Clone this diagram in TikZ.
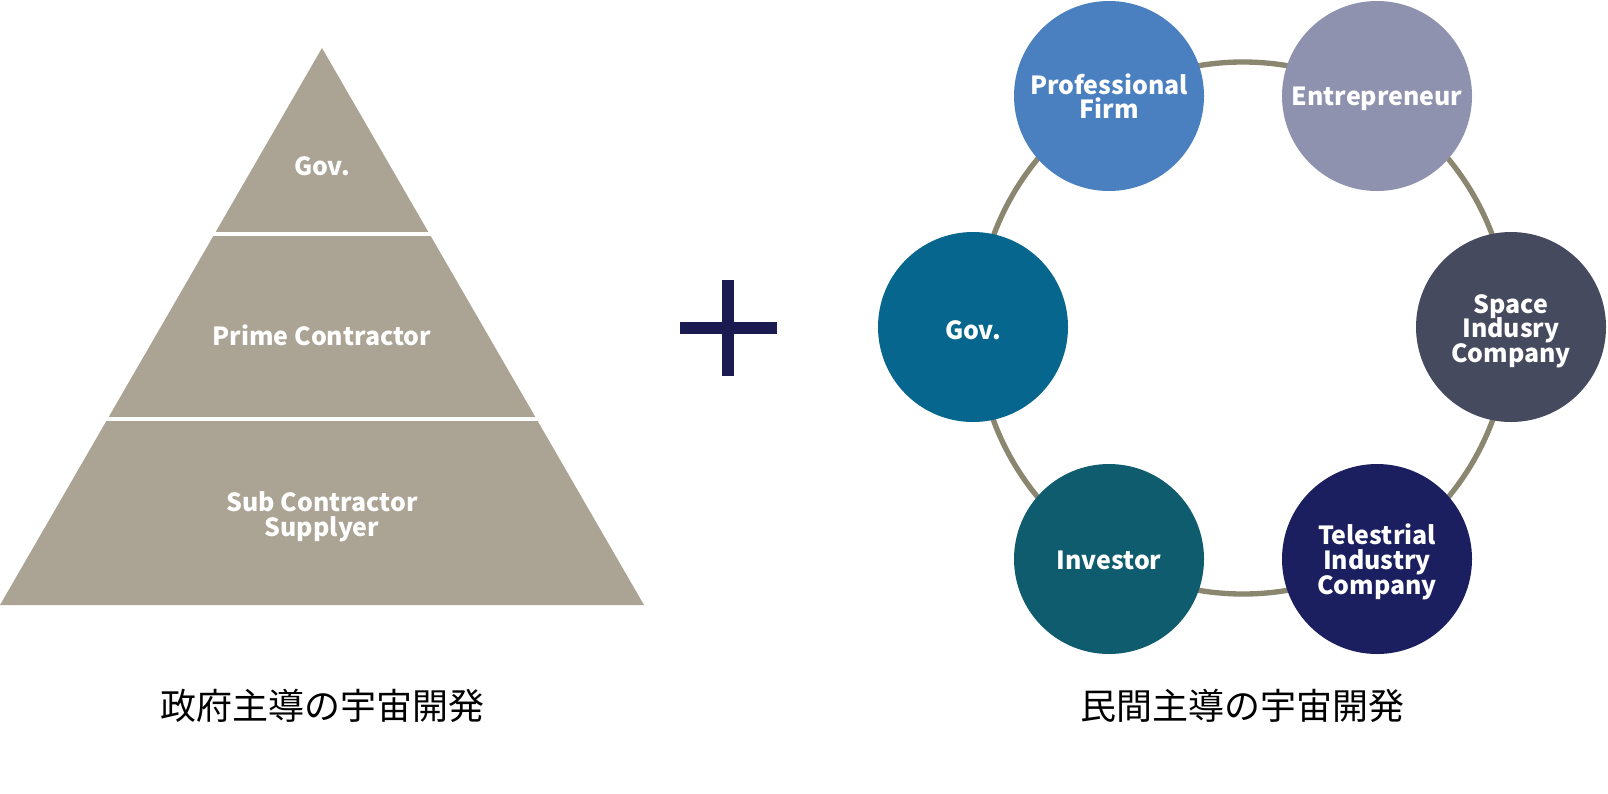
\documentclass[tikz,border=0pt]{standalone}
\usepackage{fontspec}
\newfontfamily\jpfont{Noto Sans CJK JP}[BoldFont={Noto Sans CJK JP Black}]
\usetikzlibrary{positioning}

\definecolor{pyramidgray}{RGB}{171,164,148}
\definecolor{ringgray}{RGB}{139,134,112}
\definecolor{plusnavy}{RGB}{27,27,82}
\definecolor{profblue}{RGB}{74,128,192}
\definecolor{entrelilac}{RGB}{142,146,174}
\definecolor{govteal}{RGB}{6,102,142}
\definecolor{spaceslate}{RGB}{70,74,94}
\definecolor{investgreen}{RGB}{15,92,110}
\definecolor{telenavy}{RGB}{27,31,96}

\newcommand\tightlines{\lineskiplimit=-20pt\relax}

\begin{document}
\begin{tikzpicture}[x=0.75pt,y=-0.75pt,
                    label text/.style={text=white,align=center,
                      font={\jpfont\bfseries\fontsize{18.7}{18.5}\selectfont\tightlines}},
                    actor/.style={circle,minimum size=142.5pt,inner sep=0pt},
                    caption/.style={text=black,font=\jpfont\fontsize{27}{30}\selectfont}]
  \useasboundingbox (0,0) rectangle (1608,793);

  % pyramid: government-led
  \coordinate (apex)  at (322,48);
  \coordinate (baseL) at (0,605);
  \coordinate (baseR) at (644,605);
  \fill[pyramidgray] (apex) -- (baseR) -- (baseL) -- cycle;
  \draw[white,line width=3pt] (0,234) -- (644,234)
                              (0,419) -- (644,419);

  \node[label text] (govtop) at (322,166) {Gov.};
  \node[label text] (prime)  at (322,335) {Prime Contractor};
  \node[label text] (sub)    at (322,517) {Sub Contractor\\Supplyer};
  \node[caption]    (capL)   at (322,706) {政府主導の宇宙開発};

  % plus
  \draw[plusnavy,line width=9pt] (728,280) -- (728,376)
                                 (680,328) -- (777,328);

  % ring: private-led
  \node[draw=ringgray,line width=4pt,circle,minimum size=399pt,inner sep=0pt]
        (ring) at (1243,328) {};

  \node[actor,fill=profblue,
        label={[label text]center:{Professional\\Firm}}]                   (prof)   at (1109,96)  {};
  \node[actor,fill=entrelilac,
        label={[label text,yshift=-2.25pt]center:Entrepreneur}]             (entre)  at (1377,96)  {};
  \node[actor,fill=govteal,
        label={[label text,yshift=-2.25pt]center:Gov.}]                     (gov)    at (973,327)  {};
  \node[actor,fill=spaceslate,
        label={[label text,yshift=-3pt]center:{Space\\Indusry\\Company}}]   (space)  at (1511,327) {};
  \node[actor,fill=investgreen,
        label={[label text,yshift=-0.75pt]center:Investor}]                 (invest) at (1109,559) {};
  \node[actor,fill=telenavy,
        label={[label text,yshift=-2.25pt]center:{Telestrial\\Industry\\Company}}] (tele) at (1377,559) {};

  \node[caption] (capR) at (1242,706) {民間主導の宇宙開発};
\end{tikzpicture}
\end{document}
